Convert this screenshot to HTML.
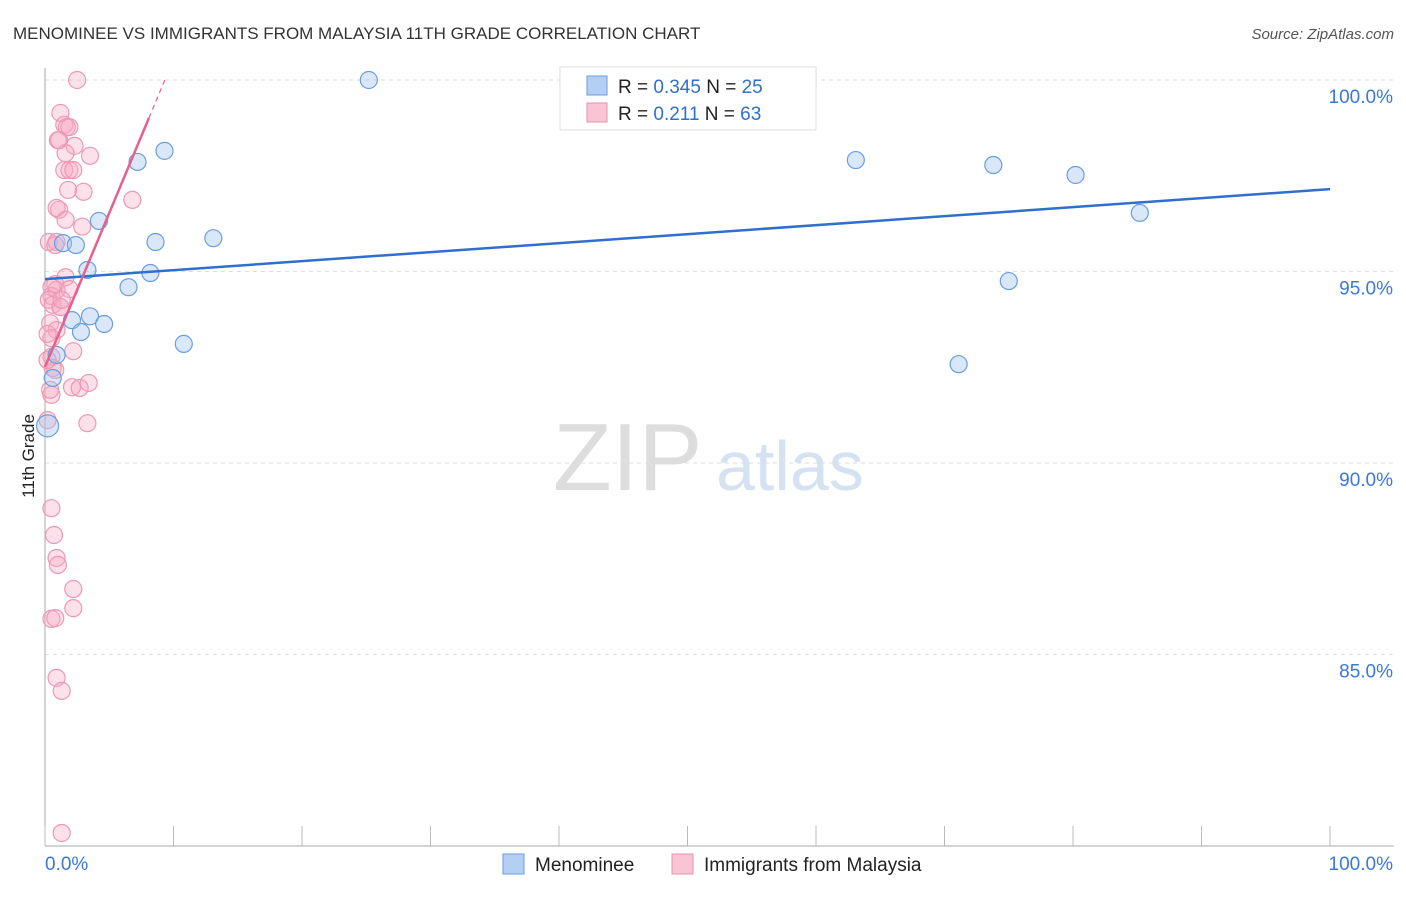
<!DOCTYPE html>
<html><head><meta charset="utf-8"><style>
body{margin:0;background:#fff;font-family:"Liberation Sans",sans-serif;}
svg text{font-family:"Liberation Sans",sans-serif;}
</style></head><body>
<svg id="chart" width="1406" height="892" xmlns="http://www.w3.org/2000/svg">
<text x="13" y="39" font-size="17" fill="#333">MENOMINEE VS IMMIGRANTS FROM MALAYSIA 11TH GRADE CORRELATION CHART</text>
<text x="1394" y="39" font-size="15" fill="#555" text-anchor="end" font-style="italic">Source: ZipAtlas.com</text>
<text transform="translate(34,456) rotate(-90)" font-size="17" fill="#222" text-anchor="middle">11th Grade</text>
<g><text x="553" y="490" font-size="96" fill="#ddd" font-family="Liberation Serif">ZIP</text><text x="716" y="490" font-size="70" fill="#d5e2f2">atlas</text></g>
<g id="grid"></g><g id="marks"></g><g id="lines"></g>
<g>
<rect x="560" y="67" width="256" height="63" fill="#fff" stroke="#ddd"/>
<rect x="587" y="76" width="20" height="19" fill="#b3cff3" stroke="#6a9ee0"/>
<rect x="587" y="103" width="20" height="19" fill="#f9c4d4" stroke="#ec8fab"/>
<text x="618" y="93" font-size="19" fill="#222">R = <tspan fill="#2f6fce">0.345</tspan>    N = <tspan fill="#2f6fce">25</tspan></text>
<text x="618" y="120" font-size="19" fill="#222">R =  <tspan fill="#2f6fce">0.211</tspan>    N = <tspan fill="#2f6fce">63</tspan></text>
</g>
<g>
<rect x="503" y="854" width="21" height="20" fill="#b3cff3" stroke="#6a9ee0"/>
<text x="535" y="871" font-size="19" fill="#222">Menominee</text>
<rect x="672" y="854" width="21" height="20" fill="#f9c4d4" stroke="#ec8fab"/>
<text x="704" y="871" font-size="19" fill="#222">Immigrants from Malaysia</text>
</g>
</svg>
<script>
const yTicks=[100,95,90,85];
const yTickLabels=["100.0%","95.0%","90.0%","85.0%"];
const xTickLabels=["0.0%","100.0%"];
const blueX=[25.2,9.3,7.2,63.1,73.8,80.2,85.2,4.2,13.1,8.6,1.4,2.4,3.3,8.2,6.5,75.0,3.5,2.1,4.6,2.8,10.8,0.9,71.1,0.6,0.2];
const blueY=[100,98.15,97.86,97.91,97.78,97.52,96.53,96.32,95.87,95.77,95.74,95.69,95.04,94.96,94.59,94.75,93.83,93.73,93.63,93.42,93.11,92.82,92.58,92.22,90.97];
const pinkX=[2.5,1.2,1.5,1.7,1.9,1.1,2.3,1.6,3.5,1.5,1.9,2.2,1.8,3.0,1.1,0.9,1.6,2.9,6.8,0.3,0.9,1.6,0.5,0.9,0.5,0.3,0.6,1.2,0.4,0.9,0.5,2.2,0.5,0.6,0.8,0.5,2.1,2.7,3.4,3.3,0.5,0.7,0.9,1.0,2.2,2.2,0.5,0.8,0.9,1.3,1.3,0.2,0.4,0.2,0.8,1.2,0.2,0.8,1.9,1.0,1.3];
const pinkY=[100,99.14,98.83,98.77,98.77,98.43,98.28,98.09,98.02,97.65,97.65,97.65,97.13,97.08,96.61,96.66,96.35,96.17,96.87,95.77,95.77,94.85,94.59,94.52,94.36,94.26,94.13,94.07,93.65,93.47,93.26,92.92,92.77,92.48,92.43,91.78,91.98,91.96,92.09,91.04,88.82,88.12,87.52,87.34,86.71,86.21,85.93,85.95,84.39,84.05,80.34,91.12,91.91,92.69,95.69,94.07,93.37,94.67,94.54,98.43,94.26];
const blueLine=[94.80,97.15];
const pinkLine=[92.51,99.01,8.09];
const X=v=>45+v*12.85, Y=v=>80+(100-v)*38.3;
const NS="http://www.w3.org/2000/svg";
function mk(p,t,a){const e=document.createElementNS(NS,t);for(const k in a)e.setAttribute(k,a[k]);p.appendChild(e);return e;}
const grid=document.getElementById('grid'),marks=document.getElementById('marks'),lines=document.getElementById('lines');
yTicks.forEach((t,i)=>{
 const l=mk(grid,'line',{x1:45,x2:1394,y1:Y(t),y2:Y(t),stroke:'#ddd','stroke-dasharray':'4,4'});
 
 
 const tx=mk(grid,'text',{x:1393,y:Y(t)+23,'font-size':19,fill:'#3b78d8','text-anchor':'end'});
 tx.textContent=yTickLabels[i];
 
 
});
const ax=mk(grid,'line',{x1:45,x2:45,y1:68,y2:846,stroke:'#aaa'});


const bx=mk(grid,'line',{x1:45,x2:1394,y1:846,y2:846,stroke:'#aaa'});


for(let i=0;i<=10;i++){const t=mk(grid,'line',{x1:X(i*10),x2:X(i*10),y1:826,y2:846,stroke:'#bbb'});
 
 }
[[0,'start',45],[100,'end',1393]].forEach((d,i)=>{const t=mk(grid,'text',{x:d[2],y:870,'font-size':19,fill:'#3b78d8','text-anchor':d[1]});t.textContent=xTickLabels[i];
 
 });
pinkX.forEach((x,i)=>{const c=mk(marks,'circle',{cx:X(x),cy:Y(pinkY[i]),r:8.5,fill:'rgba(246,170,194,0.35)',stroke:'#ee98b3','stroke-width':1.2});
 
 });
blueX.forEach((x,i)=>{const c=mk(marks,'circle',{cx:X(x),cy:Y(blueY[i]),r:i==24?11:8.5,fill:'rgba(160,196,240,0.4)',stroke:'#6a9ee0','stroke-width':1.2});
 
 });
const bl=mk(lines,'line',{x1:X(0),y1:Y(blueLine[0]),x2:X(100),y2:Y(blueLine[1]),stroke:'#2f6fce','stroke-width':2.5});


const pl=mk(lines,'line',{x1:X(0),y1:Y(pinkLine[0]),x2:X(pinkLine[2]),y2:Y(pinkLine[1]),stroke:'#e5608a','stroke-width':2.5});


const s=(pinkLine[1]-pinkLine[0])/pinkLine[2];
const pd=mk(lines,'line',{x1:X(pinkLine[2]),y1:Y(pinkLine[1]),x2:X(9.4),y2:Y(pinkLine[0]+s*9.4),stroke:'#e5608a','stroke-width':1.2,'stroke-dasharray':'5,4'});


</script>
</body></html>
